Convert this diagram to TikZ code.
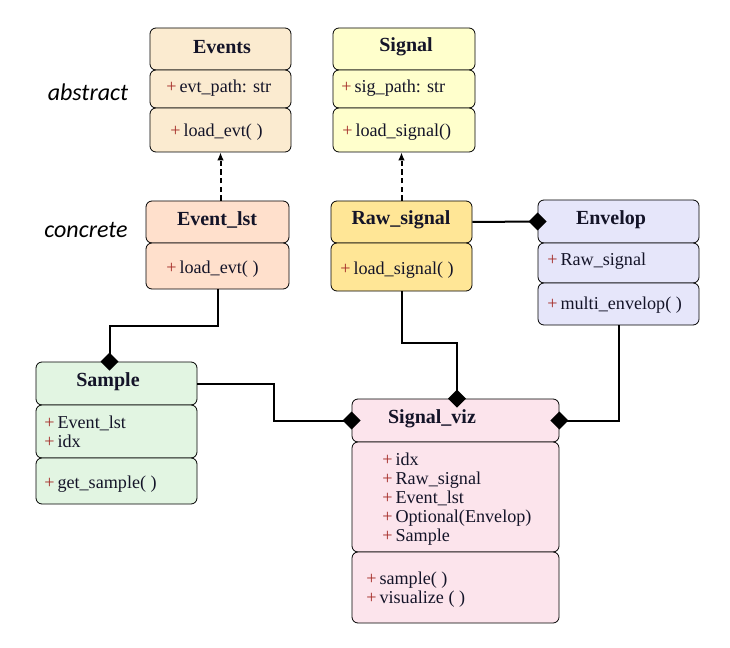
\documentclass[tikz,border=0pt]{standalone}
\usepackage{fontspec}
\setmainfont{Liberation Serif}
\newfontfamily\labfont{Carlito}
\usetikzlibrary{arrows.meta,calc}
\definecolor{evfill}{RGB}{251,235,208}
\definecolor{sgfill}{RGB}{255,255,204}
\definecolor{elfill}{RGB}{255,224,204}
\definecolor{rsfill}{RGB}{255,230,150}
\definecolor{enfill}{RGB}{230,230,250}
\definecolor{smfill}{RGB}{226,245,226}
\definecolor{vzfill}{RGB}{252,228,236}
\definecolor{plusred}{RGB}{165,45,40}
\definecolor{txt}{RGB}{20,20,40}
\newcommand{\pl}{{\color{plusred}+}\,}
\begin{document}
\begin{tikzpicture}[x=0.75pt,y=-0.75pt,
  part/.style 2 args={draw=black,line width=0.6pt,rounded corners=4.5pt,inner sep=0pt,
     minimum width={#1*0.75pt},minimum height={#2*0.75pt}},
  title/.style={font=\fontsize{15}{17}\selectfont\bfseries,text=txt,inner sep=0pt},
  item/.style={font=\fontsize{13.6}{14.25}\selectfont,text=txt,anchor=west,inner sep=0pt,align=left},
  lab/.style={font=\labfont\itshape\fontsize{18}{20}\selectfont,inner sep=0pt},
  comp/.style={line width=1.5pt,-{Diamond[length=13.5pt,width=13.5pt]},shorten >=-6.75pt},
  real/.style={line width=1.5pt,dashed,dash pattern=on 4pt off 2.5pt,-{Latex[length=6pt,width=5pt]}}]
\useasboundingbox (0,0) rectangle (730,648);

% Events
\node[part={141}{42},fill=evfill] (events) at (220.5,49) {};
\node[part={141}{38},fill=evfill] (events-a) at (220.5,89) {};
\node[part={141}{44},fill=evfill] (events-m) at (220.5,130) {};
\node[title] (events-t) at (222,47) {Events};
\node[item] (events-at) at (166,88) {\pl evt\_path: str};
\node[item] (events-mt) at (170,132) {\pl load\_evt( )};

% Signal
\node[part={142}{42},fill=sgfill] (signal) at (404,49) {};
\node[part={142}{38},fill=sgfill] (signal-a) at (404,89) {};
\node[part={142}{44},fill=sgfill] (signal-m) at (404,130) {};
\node[title] (signal-t) at (406,47) {Signal};
\node[item] (signal-at) at (341,88) {\pl sig\_path: str};
\node[item] (signal-mt) at (342,132) {\pl load\_signal()};

% Event_lst
\node[part={143}{42},fill=elfill] (evtlst) at (217.5,222) {};
\node[part={143}{46},fill=elfill] (evtlst-m) at (217.5,266) {};
\node[title] (evtlst-t) at (217,220) {Event\_lst};
\node[item] (evtlst-mt) at (166,269) {\pl load\_evt( )};

% Raw_signal
\node[part={141}{42},fill=rsfill] (raw) at (401.5,222) {};
\node[part={141}{48},fill=rsfill] (raw-m) at (401.5,267) {};
\node[title] (raw-t) at (401,220) {Raw\_signal};
\node[item] (raw-mt) at (340,270) {\pl load\_signal( )};

% Envelop
\node[part={161}{43},fill=enfill] (env) at (618.5,221.5) {};
\node[part={161}{40},fill=enfill] (env-a) at (618.5,263) {};
\node[part={161}{42},fill=enfill] (env-m) at (618.5,304) {};
\node[title] (env-t) at (611,220) {Envelop};
\node[item] (env-at) at (547,261) {\pl Raw\_signal};
\node[item] (env-mt) at (547,305) {\pl multi\_envelop( )};

% Sample
\node[part={161}{43},fill=smfill] (sample) at (116.5,383.5) {};
\node[part={161}{53},fill=smfill] (sample-a) at (116.5,431.5) {};
\node[part={161}{46},fill=smfill] (sample-m) at (116.5,481) {};
\node[title] (sample-t) at (108,382) {Sample};
\node[item] (sample-at) at (44,432) {\pl Event\_lst\\\pl idx};
\node[item] (sample-mt) at (44,484) {\pl get\_sample( )};

% Signal_viz
\node[part={207}{43},fill=vzfill] (viz) at (455.5,420.5) {};
\node[part={207}{110},fill=vzfill] (viz-a) at (455.5,497) {};
\node[part={207}{71},fill=vzfill] (viz-m) at (455.5,587.5) {};
\node[title] (viz-t) at (432,419) {Signal\_viz};
\node[item] (viz-at) at (382,499) {\pl idx\\\pl Raw\_signal\\\pl Event\_lst\\\pl Optional(Envelop)\\\pl Sample};
\node[item] (viz-mt) at (366,590) {\pl sample( )\\\pl visualize ( )};

% side labels
\node[lab] (abstract) at (88,92) {abstract};
\node[lab] (concrete) at (86,230) {concrete};

% realization
\draw[real] (evtlst.north -| events-m.south) -- (events-m.south);
\draw[real] (raw.north) -- (raw.north |- signal-m.south);

% compositions
\draw[comp] (raw.east) -- (env.west);
\draw[comp] (evtlst-m.south) -- ++(0,37) -| ($(sample.north)+(-7,0)$);
\draw[comp] (raw-m.south) -- ++(0,52) -| ($(viz.north)+(1.5,0)$);
\draw[comp] (sample.east) -- ++(77,0) |- (viz.west);
\draw[comp] (env-m.south) |- (viz.east);
\end{tikzpicture}
\end{document}
